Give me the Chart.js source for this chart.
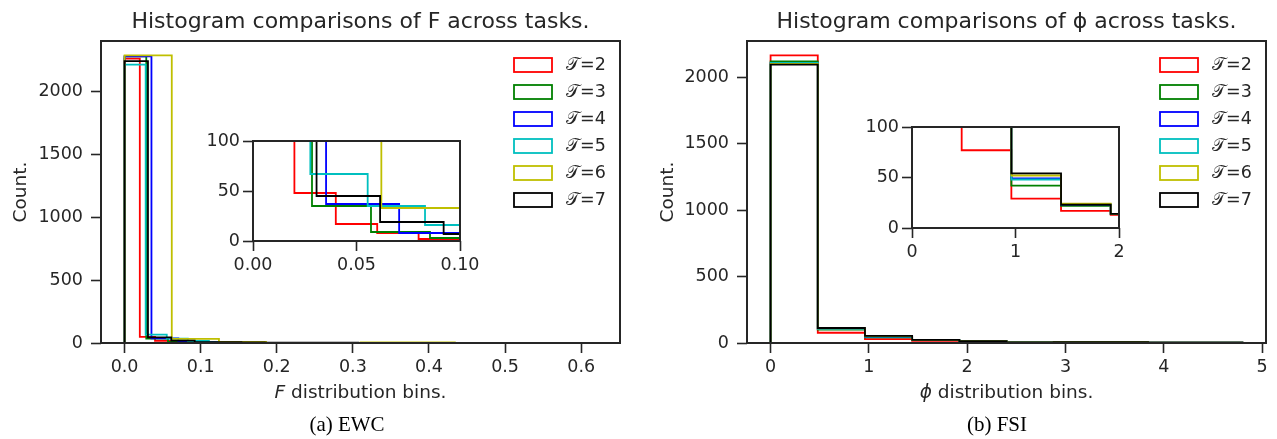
<!DOCTYPE html>
<html>
<head>
<meta charset="utf-8">
<script src="https://cdn.jsdelivr.net/npm/chart.js@4.4.1/dist/chart.umd.min.js"></script>
<style>
  body { margin: 0; background: #fff; }
  #fig { position: relative; width: 1277px; height: 439px; overflow: hidden; }
  canvas { position: absolute; }
  .cap { position: absolute; top: 412px; font: 21px "Liberation Serif", serif; line-height: 24px; color: #000; transform: translateX(-50%); white-space: nowrap; }
</style>
</head>
<body>
<div id="fig">
  <canvas id="ewc" style="left:0;top:0" width="640" height="439"></canvas>
  <canvas id="fsi" style="left:640px;top:0" width="637" height="439"></canvas>
  <canvas id="ewcZoom" style="left:190px;top:121px" width="300" height="160"></canvas>
  <canvas id="fsiZoom" style="left:850px;top:107px" width="300" height="161"></canvas>
  <div class="cap" style="left:347px">(a) EWC</div>
  <div class="cap" style="left:997px">(b) FSI</div>
</div>
<script>
const taskLabels = ['2', '3', '4', '5', '6', '7'];
const taskColors = ['#ff0000', '#008000', '#0000ff', '#00bfbf', '#bfbf00', '#000000'];

// EWC: every task has its own 10 bins running from 0 to its largest F
const ewcBinMax = [0.200, 0.285, 0.353, 0.277, 0.620, 0.307];
const ewcCounts = [
  [2260, 48, 17, 8, 2, 2, 1, 1, 0, 1],
  [2278, 35, 9, 3, 2, 1, 1, 0, 0, 1],
  [2278, 37, 8, 4, 2, 1, 1, 1, 0, 1],
  [2212, 67, 35, 16, 4, 2, 1, 1, 0, 1],
  [2286, 33, 8, 0, 0, 5, 4, 1, 1, 1],
  [2241, 45, 19, 7, 6, 4, 3, 3, 2, 2]
];

// FSI: shared bins for phi
const fsiEdges = [0, 0.48, 0.96, 1.44, 1.92, 2.40, 2.88, 3.36, 3.84, 4.32, 4.80];
const fsiCounts = [
  [2165, 77, 29, 17, 13, 4, 7, 6, 2, 2],
  [2120, 100, 42, 22, 14, 4, 7, 6, 2, 2],
  [2105, 108, 49, 23, 14, 4, 7, 6, 2, 2],
  [2108, 106, 48, 23, 14, 4, 7, 6, 2, 2],
  [2100, 110, 52, 24, 14, 4, 7, 6, 2, 2],
  [2095, 113, 54, 23, 14, 4, 7, 6, 2, 2]
];

const countTicks = [0, 500, 1000, 1500, 2000];
const ewcTicks = [0, 0.1, 0.2, 0.3, 0.4, 0.5, 0.6];
const fsiTicks = [0, 1, 2, 3, 4, 5];
const zoomCountTicks = [0, 50, 100];
const ewcZoomTicks = [0, 0.05, 0.10];
const fsiZoomTicks = [0, 1, 2];
const ewcZoomRange = [0, 0.1];
const fsiZoomRange = [0, 2];
const zoomCountRange = [0, 100];

const INK = '#262626';
const FONT = '"DejaVu Sans", sans-serif';
const LINE_W = 1.8;
Chart.defaults.font.family = FONT;
Chart.defaults.color = INK;

function ewcEdges(max) {
  const e = [];
  for (let k = 0; k <= 10; k++) e.push(max * k / 10);
  return e;
}

// outline of a step histogram: up the first edge, across each bin, down the last edge
function stepOutline(edges, counts) {
  const pts = [{x: edges[0], y: 0}];
  counts.forEach((c, i) => {
    pts.push({x: edges[i], y: c}, {x: edges[i + 1], y: c});
  });
  pts.push({x: edges[edges.length - 1], y: 0});
  return pts;
}

function histDatasets(edgeSets, countSets) {
  return countSets.map((counts, i) => ({
    label: '\u{1D4AF}=' + taskLabels[i],
    data: stepOutline(edgeSets[i], counts),
    borderColor: taskColors[i],
    borderWidth: LINE_W,
    pointRadius: 0,
    fill: false,
    tension: 0,
    order: countSets.length - 1 - i
  }));
}

const framePlugin = {
  id: 'frame',
  afterDatasetsDraw(chart) {
    const {ctx, chartArea: a} = chart;
    ctx.save();
    ctx.strokeStyle = INK;
    ctx.lineWidth = 2;
    ctx.strokeRect(a.left, a.top, a.right - a.left, a.bottom - a.top);
    ctx.restore();
  }
};

const legendPlugin = {
  id: 'stepLegend',
  afterDraw(chart, args, opts) {
    if (!opts.show) return;
    const {ctx, chartArea: a} = chart;
    ctx.save();
    chart.data.datasets.forEach((ds, i) => {
      const x = a.right - 106;
      const y = a.top + 24 + i * 27;
      ctx.strokeStyle = ds.borderColor;
      ctx.lineWidth = LINE_W;
      ctx.strokeRect(x, y - 7, 38, 14);
      ctx.fillStyle = INK;
      ctx.font = '17.5px ' + FONT;
      ctx.textBaseline = 'middle';
      ctx.fillText(ds.label, x + 52, y);
    });
    ctx.restore();
  }
};

// x label with an italic symbol in front
const axisLabelPlugin = {
  id: 'axisLabel',
  afterDraw(chart, args, opts) {
    if (!opts.symbol) return;
    const {ctx, chartArea: a} = chart;
    const parts = [[opts.symbol, 'italic 18.5px ' + FONT], [opts.rest, '18.5px ' + FONT]];
    ctx.save();
    ctx.fillStyle = INK;
    ctx.textBaseline = 'middle';
    const widths = parts.map(p => { ctx.font = p[1]; return ctx.measureText(p[0]).width; });
    let x = (a.left + a.right) / 2 - (widths[0] + widths[1]) / 2;
    const y = a.bottom + 50;
    parts.forEach((p, i) => { ctx.font = p[1]; ctx.fillText(p[0], x, y); x += widths[i]; });
    ctx.restore();
  }
};

function axis(o) {
  return {
    type: 'linear',
    min: o.range[0],
    max: o.range[1],
    afterBuildTicks: s => { s.ticks = o.ticks.map(v => ({value: v})); },
    afterFit: s => { if (o.width) s.width = o.width; if (o.height) s.height = o.height; },
    grid: { display: true, drawOnChartArea: false, drawTicks: true, tickLength: 10, tickColor: INK, tickWidth: 1.6 },
    border: { display: false },
    ticks: { padding: o.pad, autoSkip: false, maxRotation: 0, font: {size: 17.5}, color: INK, callback: o.fmt },
    title: o.title ? { display: true, text: o.title, font: {size: 18.5}, color: INK, padding: {top: o.titlePad, bottom: 0} } : { display: false }
  };
}

function padded(lo, hi) {
  const m = (hi - lo) * 0.05;
  return [lo - m, hi + m];
}

function makeMain(id, o) {
  const yMax = Math.max(...o.counts.flat()) * 1.05;
  return new Chart(document.getElementById(id), {
    type: 'line',
    data: { datasets: histDatasets(o.edges, o.counts) },
    options: {
      responsive: false,
      animation: false,
      layout: { padding: { left: 0, right: o.padRight, top: 0, bottom: 26 } },
      plugins: {
        legend: { display: false },
        tooltip: { enabled: false },
        title: { display: true, text: o.title, fullSize: false, color: INK, font: {size: 22, weight: 'normal', lineHeight: 1.2}, padding: {top: 9, bottom: 5.6} },
        stepLegend: { show: true },
        axisLabel: { symbol: o.symbol, rest: ' distribution bins.' }
      },
      scales: {
        x: axis({range: o.xRange, ticks: o.xTicks, height: 70, pad: 4, fmt: o.xFmt}),
        y: axis({range: [0, yMax], ticks: countTicks, width: o.yWidth, pad: 8, fmt: v => String(v), title: 'Count.', titlePad: o.titlePad})
      }
    },
    plugins: [framePlugin, legendPlugin, axisLabelPlugin]
  });
}

function makeZoom(id, o) {
  return new Chart(document.getElementById(id), {
    type: 'line',
    data: { datasets: histDatasets(o.edges, o.counts) },
    options: {
      responsive: false,
      animation: false,
      layout: { padding: { left: 0, right: o.padRight, top: 20, bottom: 0 } },
      plugins: { legend: { display: false }, tooltip: { enabled: false } },
      scales: {
        x: axis({range: o.xRange, ticks: o.xTicks, height: 40, pad: 4, fmt: o.xFmt}),
        y: axis({range: zoomCountRange, ticks: zoomCountTicks, width: o.yWidth, pad: 3, fmt: v => String(v)})
      }
    },
    plugins: [framePlugin]
  });
}

const ewcEdgeSets = ewcBinMax.map(ewcEdges);
const fsiEdgeSets = fsiCounts.map(() => fsiEdges);

makeMain('ewc', {
  title: 'Histogram comparisons of F across tasks.',
  symbol: 'F',
  edges: ewcEdgeSets,
  counts: ewcCounts,
  xRange: padded(0, Math.max(...ewcBinMax)),
  xTicks: ewcTicks,
  xFmt: v => v.toFixed(1),
  yWidth: 101,
  padRight: 20,
  titlePad: 10
});

makeMain('fsi', {
  title: 'Histogram comparisons of \u03D5 across tasks.',
  symbol: '\u03D5',
  edges: fsiEdgeSets,
  counts: fsiCounts,
  xRange: padded(fsiEdges[0], fsiEdges[fsiEdges.length - 1]),
  xTicks: fsiTicks,
  xFmt: v => String(v),
  yWidth: 107,
  padRight: 11,
  titlePad: 17
});

makeZoom('ewcZoom', {
  edges: ewcEdgeSets,
  counts: ewcCounts,
  xRange: ewcZoomRange,
  xTicks: ewcZoomTicks,
  xFmt: v => v.toFixed(2),
  yWidth: 63,
  padRight: 30
});

makeZoom('fsiZoom', {
  edges: fsiEdgeSets,
  counts: fsiCounts,
  xRange: fsiZoomRange,
  xTicks: fsiZoomTicks,
  xFmt: v => String(v),
  yWidth: 62,
  padRight: 31
});
</script>
</body>
</html>
